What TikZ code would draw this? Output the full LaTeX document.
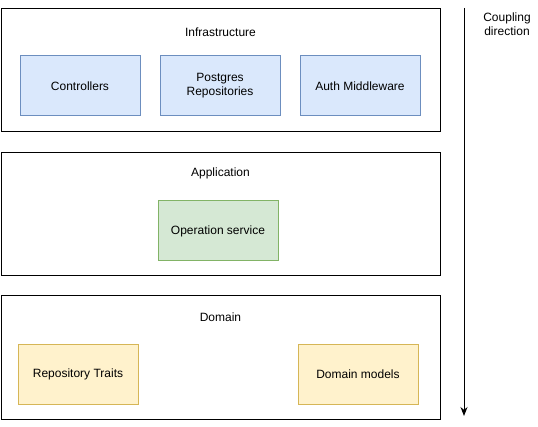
\documentclass[tikz,border=0pt]{standalone}
\usepackage{fontspec}
\setmainfont{Liberation Sans}
\usepackage{tikz}
\usetikzlibrary{positioning,arrows.meta}
\usepackage{xcolor}

\definecolor{blueFill}{HTML}{DAE8FC}
\definecolor{blueLine}{HTML}{6C8EBF}
\definecolor{greenFill}{HTML}{D5E8D4}
\definecolor{greenLine}{HTML}{82B366}
\definecolor{yellowFill}{HTML}{FFF2CC}
\definecolor{yellowLine}{HTML}{D6B656}

\begin{document}
\begin{tikzpicture}[
    x=1pt, y=-1pt,
    font=\fontsize{12}{14}\selectfont,
    layer/.style={rectangle, draw, line width=1pt, minimum width=439pt, minimum height=123pt},
    title/.style={inner sep=0pt, align=center},
    item/.style={rectangle, draw, line width=1pt, minimum width=120pt, minimum height=60pt, align=center},
    infraItem/.style={item, fill=blueFill, draw=blueLine},
    appItem/.style={item, fill=greenFill, draw=greenLine},
    domainItem/.style={item, fill=yellowFill, draw=yellowLine},
    arrow/.style={-{Stealth[length=9pt,width=7pt]}, line width=1pt}
]
\useasboundingbox (0,0) rectangle (538,427);

% layers
\node[layer] (infra) at (220.5,70.5) {};
\node[layer, below=20pt of infra] (app) {};
\node[layer, below=19pt of app] (domain) {};

\node[title] (infraTitle) at ([yshift=-24pt]infra.north) {Infrastructure};
\node[title] (appTitle) at ([yshift=-21pt]app.north) {Application};
\node[title] (domainTitle) at ([yshift=-22pt]domain.north) {Domain};

% contents
\node[infraItem] (controllers) at (80,86) {Controllers};
\node[infraItem] (postgres) at (220,86) {Postgres\\Repositories};
\node[infraItem] (auth) at (360,86) {Auth Middleware};

\node[appItem] (operation) at (218,231) {Operation service};

\node[domainItem] (repoTraits) at (78,374.5) {Repository Traits};
\node[domainItem] (models) at (358,374.5) {Domain models};

% coupling direction
\node[title] (coupling) at (507,24) {Coupling\\direction};
\coordinate (arrowTop) at (464,8);
\coordinate (arrowBottom) at (464,416);
\draw[arrow] (arrowTop) -- (arrowBottom);

\end{tikzpicture}
\end{document}
